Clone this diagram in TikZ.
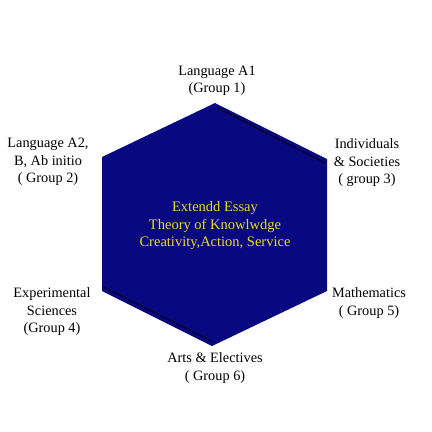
\documentclass[tikz,border=0pt]{standalone}
\usepackage{fontspec}
\setmainfont{Liberation Serif}
\definecolor{hexnavy}{RGB}{8,8,128}
\definecolor{hexdark}{RGB}{2,2,60}
\definecolor{goldtxt}{RGB}{236,220,30}
\begin{document}
\begin{tikzpicture}[x=1pt,y=-1pt,
  lbl/.style={align=center,font=\fontsize{14.3}{17.5}\selectfont,inner sep=0pt},
  ctr/.style={align=center,text=goldtxt,font=\fontsize{14.5}{17.5}\selectfont,inner sep=0pt}]
\useasboundingbox (0,0) rectangle (432,432);
\fill[white] (0,0) rectangle (432,432);
\coordinate (T) at (215,103);
\coordinate (UR) at (327,159);
\coordinate (LR) at (327,291);
\coordinate (B) at (212,346);
\coordinate (LL) at (102,291);
\coordinate (UL) at (102,157);
\fill[hexnavy] (T) -- (UR) -- (LR) -- (B) -- (LL) -- (UL) -- cycle;
\coordinate (d1) at (218,108);
\coordinate (d2) at (325,163);
\coordinate (d3) at (103,287);
\coordinate (d4) at (211,341);
\draw[hexdark,line width=1.6pt] (d1) -- (d2);
\draw[hexdark,line width=1.6pt] (d3) -- (d4);
\node[ctr] (center) at (215,226) {Extendd Essay\\Theory of Knowlwdge\\Creativity,Action, Service};
\node[lbl] (g1) at (217,81) {Language A1\\(Group 1)};
\node[lbl] (g2) at (48,162) {Language A2,\\B, Ab initio\\( Group 2)};
\node[lbl] (g3) at (367,163) {Individuals\\\& Societies\\( group 3)};
\node[lbl] (g4) at (52,312) {Experimental\\Sciences\\(Group 4)};
\node[lbl] (g5) at (369,303) {Mathematics\\( Group 5)};
\node[lbl] (g6) at (215,368) {Arts \& Electives\\( Group 6)};
\end{tikzpicture}
\end{document}
